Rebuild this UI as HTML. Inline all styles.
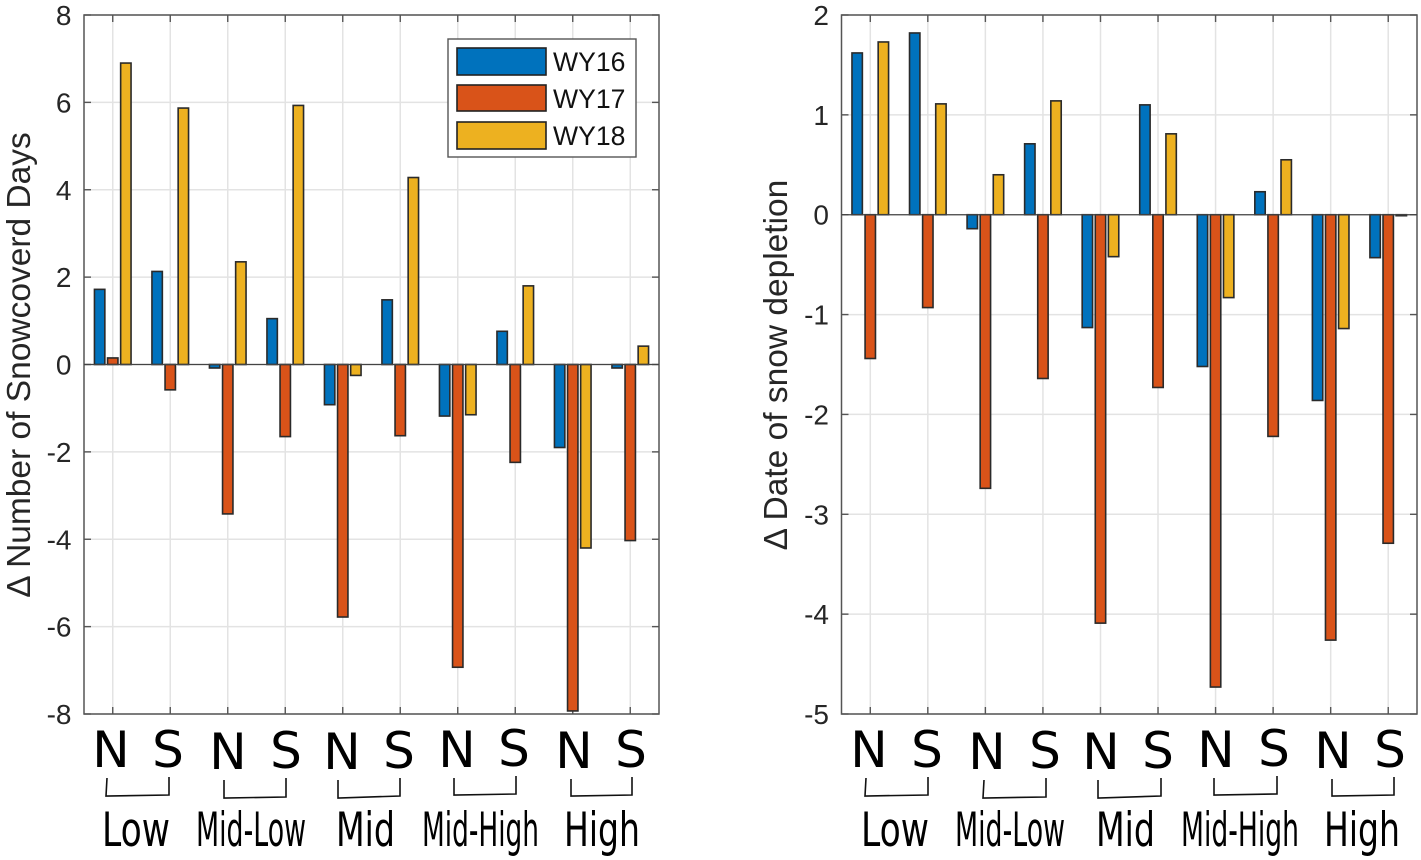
<!DOCTYPE html>
<html><head><meta charset="utf-8"><title>Snow charts</title>
<style>
html,body{margin:0;padding:0;background:#fff;width:1421px;height:860px;overflow:hidden}
svg{display:block}
text{font-family:"Liberation Sans",sans-serif}
.cat{font-family:"DejaVu Sans",sans-serif;font-size:50px;fill:#000;text-anchor:middle}
.grp{font-family:"DejaVu Sans",sans-serif;font-size:47px;fill:#000}
.brk{fill:none;stroke:#111;stroke-width:1.6}
</style></head>
<body>
<svg id="fig" width="1421" height="860" viewBox="0 0 1421 860" xmlns="http://www.w3.org/2000/svg">
<g id="left"></g>
<g id="right"></g>

<g>
<text class="cat" x="111" y="767">N</text>
<text class="cat" x="168" y="767">S</text>
<text class="cat" x="228" y="769">N</text>
<text class="cat" x="286" y="768">S</text>
<text class="cat" x="342" y="769">N</text>
<text class="cat" x="399" y="768">S</text>
<text class="cat" x="457" y="767">N</text>
<text class="cat" x="514" y="766">S</text>
<text class="cat" x="574" y="768">N</text>
<text class="cat" x="631" y="767">S</text>
</g>
<g>
<path class="brk" d="M107 778L106 796L169 795L169 777"/>
<path class="brk" d="M224 780L224 798L286 797L286 778"/>
<path class="brk" d="M338 780L338 798L400 796L400 778"/>
<path class="brk" d="M454 778L454 795L516 794L516 776"/>
<path class="brk" d="M571 779L571 796L632 795L632 777"/>
</g>
<g>
<text class="grp" x="102" y="846" textLength="68" lengthAdjust="spacingAndGlyphs">Low</text>
<text class="grp" x="196" y="846" textLength="110" lengthAdjust="spacingAndGlyphs">Mid-Low</text>
<text class="grp" x="336" y="846" textLength="59" lengthAdjust="spacingAndGlyphs">Mid</text>
<text class="grp" x="422" y="846" textLength="117" lengthAdjust="spacingAndGlyphs">Mid-High</text>
<text class="grp" x="564" y="846" textLength="76" lengthAdjust="spacingAndGlyphs">High</text>
</g>

<g>
<text class="cat" x="869" y="767">N</text>
<text class="cat" x="927" y="767">S</text>
<text class="cat" x="987" y="769">N</text>
<text class="cat" x="1045" y="768">S</text>
<text class="cat" x="1101" y="769">N</text>
<text class="cat" x="1158" y="768">S</text>
<text class="cat" x="1216" y="767">N</text>
<text class="cat" x="1274" y="766">S</text>
<text class="cat" x="1333" y="768">N</text>
<text class="cat" x="1390" y="767">S</text>
</g>
<g>
<path class="brk" d="M866 778L865 796L928 795L928 777"/>
<path class="brk" d="M984 780L983 798L1046 797L1046 778"/>
<path class="brk" d="M1098 780L1098 798L1161 796L1161 778"/>
<path class="brk" d="M1214 778L1214 795L1277 794L1277 776"/>
<path class="brk" d="M1332 779L1332 796L1394 795L1394 777"/>
</g>
<g>
<text class="grp" x="861" y="846" textLength="68" lengthAdjust="spacingAndGlyphs">Low</text>
<text class="grp" x="955" y="846" textLength="110" lengthAdjust="spacingAndGlyphs">Mid-Low</text>
<text class="grp" x="1096" y="846" textLength="59" lengthAdjust="spacingAndGlyphs">Mid</text>
<text class="grp" x="1181" y="846" textLength="118" lengthAdjust="spacingAndGlyphs">Mid-High</text>
<text class="grp" x="1324" y="846" textLength="76" lengthAdjust="spacingAndGlyphs">High</text>
</g>

<text x="0" y="0" transform="translate(30 365) rotate(-90)" text-anchor="middle" font-size="33.5" fill="#262626">Δ Number of Snowcoverd Days</text>
<text x="0" y="0" transform="translate(787 365) rotate(-90)" text-anchor="middle" font-size="33.5" fill="#262626">Δ Date of snow depletion</text>

<g>
<rect x="448" y="39" width="188" height="118" fill="#fff" stroke="#555" stroke-width="1.4"/>
<rect x="457" y="48" width="89" height="27" fill="#0072BD" stroke="#222" stroke-width="1.6"/>
<text x="553" y="71" font-size="26.6" fill="#111">WY16</text>
<rect x="457" y="85" width="89" height="26" fill="#D95319" stroke="#222" stroke-width="1.6"/>
<text x="553" y="108" font-size="26.6" fill="#111">WY17</text>
<rect x="457" y="122" width="89" height="27" fill="#EDB120" stroke="#222" stroke-width="1.6"/>
<text x="553" y="145" font-size="26.6" fill="#111">WY18</text>
</g>
</svg>
<script>
const positions = ["Low N","Low S","Mid-Low N","Mid-Low S","Mid N","Mid S","Mid-High N","Mid-High S","High N","High S"];
const seriesNames = ["WY16","WY17","WY18"];
const leftWY16 = [1.72,2.13,-0.08,1.05,-0.92,1.48,-1.18,0.76,-1.90,-0.08];
const leftWY17 = [0.15,-0.58,-3.42,-1.65,-5.78,-1.63,-6.93,-2.24,-7.93,-4.03];
const leftWY18 = [6.90,5.87,2.35,5.93,-0.25,4.28,-1.15,1.80,-4.20,0.42];
const leftTicks = [8,6,4,2,0,-2,-4,-6,-8];
const rightWY16 = [1.62,1.82,-0.14,0.71,-1.13,1.10,-1.52,0.23,-1.86,-0.43];
const rightWY17 = [-1.44,-0.93,-2.74,-1.64,-4.09,-1.73,-4.73,-2.22,-4.26,-3.29];
const rightWY18 = [1.73,1.11,0.40,1.14,-0.42,0.81,-0.83,0.55,-1.14,-0.01];
const rightTicks = [2,1,0,-1,-2,-3,-4,-5];

const NS = "http://www.w3.org/2000/svg";
const colors = ["#0072BD","#D95319","#EDB120"];

function node(parent, tag, attrs) {
  const el = document.createElementNS(NS, tag);
  for (const k in attrs) el.setAttribute(k, attrs[k]);
  parent.appendChild(el);
  return el;
}

function drawChart(group, prefix, box, yMax, yMin, ticks, series) {
  const x = i => box.l + (i + 0.5) * (box.r - box.l) / positions.length;
  const y = v => box.t + (yMax - v) * (box.b - box.t) / (yMax - yMin);

  positions.forEach((p, i) => {
    const g = node(group, "line", {x1:x(i), x2:x(i), y1:box.t, y2:box.b, stroke:"#e3e3e3", "stroke-width":1.5});
    
    
  });
  ticks.forEach(t => {
    const g = node(group, "line", {x1:box.l, x2:box.r, y1:y(t), y2:y(t), stroke:"#e3e3e3", "stroke-width":1.5});
    
    
  });

  const frame = node(group, "rect", {x:box.l, y:box.t, width:box.r-box.l, height:box.b-box.t, fill:"none", stroke:"#555", "stroke-width":1.5});
  
  

  positions.forEach((p, i) => {
    [[box.t, box.t + 7], [box.b - 7, box.b]].forEach(s => {
      const k = node(group, "line", {x1:x(i), x2:x(i), y1:s[0], y2:s[1], stroke:"#555", "stroke-width":1.4});
      
      
    });
  });
  ticks.forEach(t => {
    [[box.l, box.l + 7], [box.r - 7, box.r]].forEach(s => {
      const k = node(group, "line", {x1:s[0], x2:s[1], y1:y(t), y2:y(t), stroke:"#555", "stroke-width":1.4});
      
      
    });
    const lab = node(group, "text", {x:box.l - 12.5, y:y(t) + 10, "text-anchor":"end", "font-size":28, fill:"#262626"});
    lab.textContent = String(t);
    
    
  });

  const barW = 10.4, step = 13.1;
  series.forEach((vals, s) => {
    vals.forEach((v, i) => {
      const top = Math.min(y(v), y(0));
      const h = Math.abs(y(v) - y(0));
      const bar = node(group, "rect", {
        x: x(i) + (s - 1) * step - barW / 2, y: top, width: barW, height: h,
        fill: colors[s], stroke: "#2a2a2a", "stroke-width": 1.6
      });
      
      
    });
  });

  const base = node(group, "line", {x1:box.l, x2:box.r, y1:y(0), y2:y(0), stroke:"#444", "stroke-width":1.3});
  
  
}

drawChart(document.getElementById("left"), "left", {l:84, r:659, t:15, b:714}, 8, -8, leftTicks, [leftWY16, leftWY17, leftWY18]);
drawChart(document.getElementById("right"), "right", {l:841.5, r:1417, t:15, b:714}, 2, -5, rightTicks, [rightWY16, rightWY17, rightWY18]);
</script>
</body></html>
